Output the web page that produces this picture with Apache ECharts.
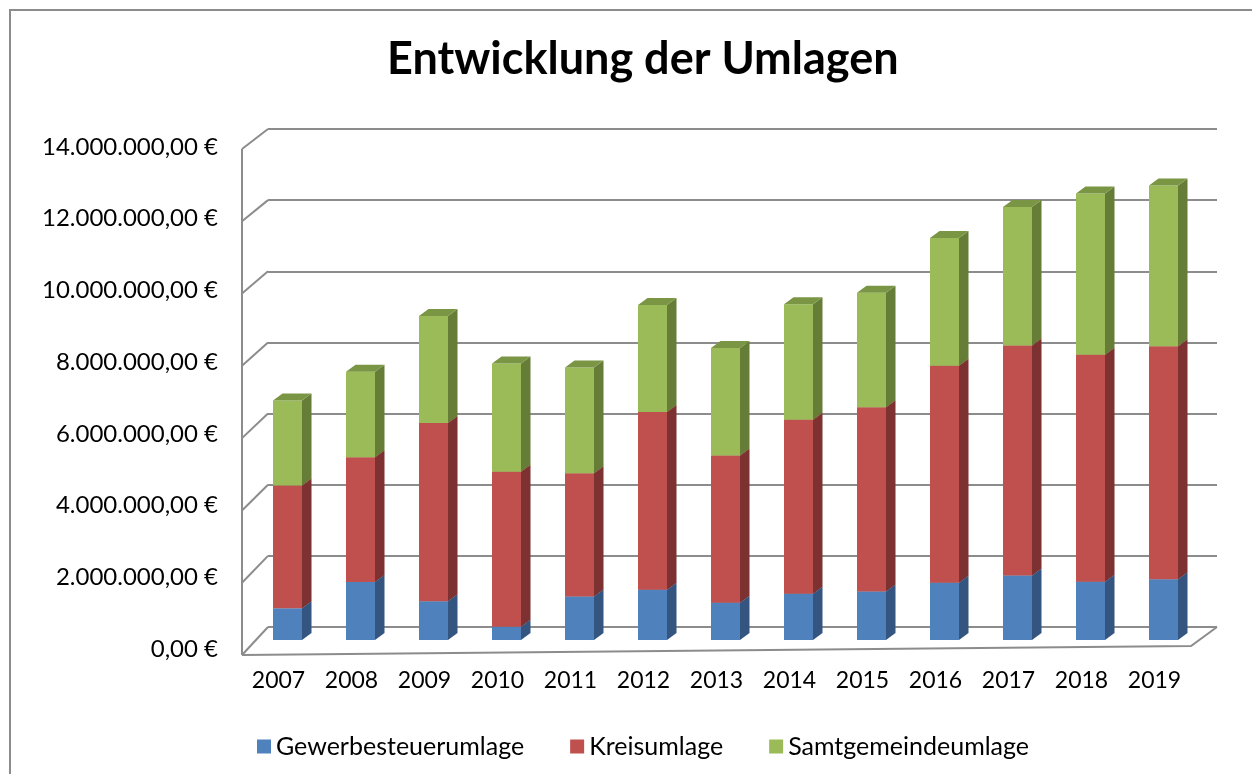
<!DOCTYPE html>
<html>
<head>
<meta charset="utf-8">
<title>Entwicklung der Umlagen</title>
<script src="https://cdn.jsdelivr.net/npm/echarts@6/dist/echarts.min.js"></script>
<style>
  html, body { margin: 0; padding: 0; background: #fff; }
  #chart { width: 1252px; height: 774px; }
</style>
</head>
<body>
<div id="chart"></div>
<script>
// Jahre (Kategorien)
var years = ['2007','2008','2009','2010','2011','2012','2013','2014','2015','2016','2017','2018','2019'];
// Werte in Euro
var gewerbesteuerumlage = [890000,1630000,1090000,370000,1220000,1410000,1050000,1300000,1360000,1610000,1810000,1640000,1710000];
var kreisumlage        = [3450000,3510000,5010000,4360000,3470000,5000000,4140000,4890000,5180000,6100000,6470000,6380000,6550000];
var samtgemeindeumlage = [2390000,2400000,3010000,3040000,2970000,3010000,3020000,3250000,3220000,3590000,3890000,4530000,4520000];

var seriesNames = ['Gewerbesteuerumlage','Kreisumlage','Samtgemeindeumlage'];
var seriesValues = [gewerbesteuerumlage, kreisumlage, samtgemeindeumlage];
// Farben: Vorderseite, Seite, Deckel
var colors = [
    ['#4f81bd','#34557f','#4a78ae'],
    ['#c0504d','#7d3131','#a84643'],
    ['#9bbb59','#667d38','#7a9645']
];

var FONT = 'Lato, "Open Sans", sans-serif';
var BAR_W = 29;      // Breite der Vorderseite
var DEPTH_X = 9.5;   // Tiefe der Säule
var DEPTH_Y = 7;
var SHIFT_X = -17;   // Versatz Säule gegenüber Rückwand
var SHIFT_Y = 13;

function fmtEuro(v){
    var s = Math.round(v).toString().replace(/\B(?=(\d{3})+(?!\d))/g, '.');
    return s + ',00 €';
}

// gestapelte Daten [index, unten, oben]
function buildStack(k){
    var res = [];
    for (var i = 0; i < years.length; i++) {
        var base = 0;
        for (var j = 0; j < k; j++) base += seriesValues[j][i];
        res.push([i, base, base + seriesValues[k][i]]);
    }
    return res;
}

function bar3d(k){
    return function(params, api){
        var p0 = api.coord([api.value(0), api.value(1)]);
        var p1 = api.coord([api.value(0), api.value(2)]);
        var x = p0[0] + SHIFT_X - BAR_W / 2;
        var yb = p0[1] + SHIFT_Y;
        var yt = p1[1] + SHIFT_Y;
        var c = colors[k];
        return {
            type: 'group',
            children: [
                { type: 'rect', shape: { x: x, y: yt, width: BAR_W, height: yb - yt }, style: { fill: c[0] } },
                { type: 'polygon', shape: { points: [[x + BAR_W, yb], [x + BAR_W + DEPTH_X, yb - DEPTH_Y], [x + BAR_W + DEPTH_X, yt - DEPTH_Y], [x + BAR_W, yt]] }, style: { fill: c[1] } },
                { type: 'polygon', shape: { points: [[x, yt], [x + DEPTH_X, yt - DEPTH_Y], [x + BAR_W + DEPTH_X, yt - DEPTH_Y], [x + BAR_W, yt]] }, style: { fill: c[2] } }
            ]
        };
    };
}

// linke Wand und Boden (Rahmen)
function walls(params, api){
    var cs = params.coordSys;
    var left = cs.x, right = cs.x + cs.width;
    var lines = [];
    var st = { stroke: '#8c8c8c', lineWidth: 2, fill: null };
    var maxV = 14000000;
    var top = null, bottom = null;
    for (var v = 0; v <= maxV; v += 2000000) {
        var yb = api.coord([0, v])[1];
        var dy = 20 + 8 * (1 - v / maxV);
        var fy = yb + dy;
        lines.push({ type: 'line', shape: { x1: left - 26, y1: fy, x2: left, y2: yb }, style: st });
        if (v === 0) bottom = fy;
        if (v === maxV) top = fy;
    }
    var y0 = api.coord([0, 0])[1];
    lines.push({ type: 'line', shape: { x1: left - 26, y1: top, x2: left - 26, y2: bottom }, style: st });
    lines.push({ type: 'polyline', shape: { points: [[left - 26, bottom], [right - 26, y0 + 19], [right, y0]] }, style: st });
    return { type: 'group', children: lines };
}

var chart = echarts.init(document.getElementById('chart'));

var series = [{
    type: 'custom',
    name: 'wand',
    xAxisIndex: 0,
    yAxisIndex: 0,
    renderItem: walls,
    data: [[0, 0]],
    silent: true,
    z: 1
}];
for (var k = 0; k < seriesNames.length; k++) {
    series.push({
        type: 'custom',
        name: seriesNames[k],
        xAxisIndex: 0,
        yAxisIndex: 0,
        renderItem: bar3d(k),
        encode: { x: 0, y: [1, 2] },
        itemStyle: { color: colors[k][0] },
        data: buildStack(k),
        z: 3 + k
    });
}

var option = {
    backgroundColor: '#fff',
    animation: false,
    title: {
        text: 'Entwicklung der Umlagen',
        left: 382,
        top: 32,
        textStyle: { fontFamily: FONT, fontSize: 45, fontWeight: 'bold', color: '#000' }
    },
    legend: {
        data: seriesNames.map(function(n, i){ return { name: n, icon: 'rect', itemStyle: { color: colors[i][0] } }; }),
        left: 252,
        top: 729,
        itemWidth: 14,
        itemHeight: 14,
        itemGap: 46,
        textStyle: { fontFamily: FONT, fontSize: 25, color: '#000' }
    },
    graphic: [{
        type: 'rect',
        shape: { x: 10, y: 10, width: 1300, height: 800 },
        style: { fill: null, stroke: '#8c8c8c', lineWidth: 2 },
        silent: true
    }],
    grid: [
        // Rückwand
        { left: 268, right: 35, top: 129, bottom: 147 },
        // Vorderebene für die Beschriftung
        { left: 242, right: 61, top: 147, bottom: 125 }
    ],
    xAxis: [
        { type: 'category', gridIndex: 0, data: years, boundaryGap: true,
          axisLine: { show: false }, axisTick: { show: false }, axisLabel: { show: false } },
        { type: 'category', gridIndex: 1, data: years, boundaryGap: true,
          axisLine: { show: false }, axisTick: { show: false },
          axisLabel: { margin: 20, fontFamily: FONT, fontSize: 23, color: '#000' } }
    ],
    yAxis: [
        { type: 'value', gridIndex: 0, min: 0, max: 14000000, interval: 2000000,
          axisLine: { show: false }, axisTick: { show: false }, axisLabel: { show: false },
          splitLine: { lineStyle: { color: '#8c8c8c', width: 2 } } },
        { type: 'value', gridIndex: 1, min: 0, max: 14000000, interval: 2000000,
          axisLine: { show: false }, axisTick: { show: false }, splitLine: { show: false },
          axisLabel: { margin: 24, fontFamily: FONT, fontSize: 24, color: '#000', formatter: fmtEuro } }
    ],
    series: series
};

chart.setOption(option);
</script>
</body>
</html>
